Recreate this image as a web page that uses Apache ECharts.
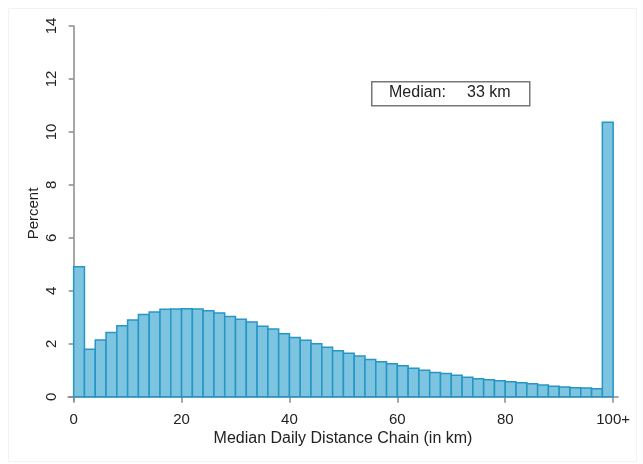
<!DOCTYPE html>
<html><head><meta charset="utf-8">
<script src="https://cdn.jsdelivr.net/npm/echarts@6/dist/echarts.min.js"></script>
<style>html,body{margin:0;padding:0;background:#fff}#c{width:643px;height:464px}</style>
</head><body><div id="c"></div>
<script>
const binStarts = [0,2,4,6,8,10,12,14,16,18,20,22,24,26,28,30,32,34,36,38,40,42,44,46,48,50,52,54,56,58,60,62,64,66,68,70,72,74,76,78,80,82,84,86,88,90,92,94,96,98];
const binWidth = 2;
const percentValues = [4.91,1.79,2.14,2.43,2.68,2.90,3.11,3.20,3.30,3.31,3.32,3.31,3.25,3.16,3.03,2.93,2.82,2.66,2.56,2.38,2.24,2.13,2.00,1.87,1.74,1.64,1.54,1.41,1.32,1.25,1.17,1.08,1.00,0.92,0.88,0.81,0.74,0.68,0.64,0.60,0.57,0.53,0.49,0.44,0.40,0.37,0.34,0.33,0.30,10.37];
const xTickValues = [0,20,40,60,80,100];
const xTickLabels = ['0','20','40','60','80','100+'];
const yTickValues = [0,2,4,6,8,10,12,14];
const xTitle = 'Median Daily Distance Chain (in km)';
const yTitle = 'Percent';
const medianLabel = 'Median:';
const medianText = '33 km';

const chart = echarts.init(document.getElementById('c'), null, {renderer: 'canvas'});
const font = '"Liberation Sans", Arial, sans-serif';
const textColor = '#222';
const axisColor = '#8a8a8a';

const option = {
  animation: false,
  backgroundColor: '#fff',
  grid: {left: 68, right: 25, top: 26, bottom: 63},
  xAxis: {
    type: 'value', min: -1.05, max: 100.9,
    splitLine: {show: false},
    axisLine: {show: true, lineStyle: {color: axisColor, width: 1.5}},
    axisTick: {show: true, customValues: xTickValues, length: 6, lineStyle: {color: axisColor, width: 1.5}},
    axisLabel: {
      customValues: xTickValues,
      formatter: v => xTickLabels[xTickValues.indexOf(v)],
      fontSize: 15, color: textColor, fontFamily: font, margin: 11
    },
    name: xTitle, nameLocation: 'middle', nameGap: 30, nameMoveOverlap: false,
    nameTextStyle: {fontSize: 16, color: textColor, fontFamily: font}
  },
  yAxis: {
    type: 'value', min: -0.16, max: 14,
    splitLine: {show: false},
    axisLine: {show: true, lineStyle: {color: axisColor, width: 1.5}},
    axisTick: {show: true, customValues: yTickValues, length: 5, lineStyle: {color: axisColor, width: 1.5}},
    axisLabel: {
      customValues: yTickValues, rotate: 90,
      fontSize: 15, color: textColor, fontFamily: font, margin: 9
    },
    name: yTitle, nameLocation: 'middle', nameGap: 27, nameRotate: 90, nameMoveOverlap: false,
    nameTextStyle: {fontSize: 15, color: textColor, fontFamily: font}
  },
  graphic: [
    {type: 'rect', left: 6, top: 6, shape: {width: 628, height: 453}, style: {fill: 'none', stroke: '#f2f2f2', lineWidth: 1}, silent: true},
    {type: 'rect', left: 371, top: 81, shape: {width: 158, height: 24}, style: {fill: '#fff', stroke: '#777', lineWidth: 1.5}, z: 10},
    {type: 'text', left: 389, top: 85, style: {text: medianLabel, fontSize: 16, fill: textColor, fontFamily: font}, z: 11},
    {type: 'text', left: 467, top: 85, style: {text: medianText, fontSize: 16, fill: textColor, fontFamily: font}, z: 11}
  ],
  series: [{
    type: 'custom',
    data: binStarts.map((s, i) => [s, s + binWidth, percentValues[i]]),
    encode: {x: [0, 1], y: 2},
    renderItem: (params, api) => {
      const p0 = api.coord([api.value(0), 0]);
      const p1 = api.coord([api.value(1), api.value(2)]);
      return {
        type: 'rect',
        shape: {x: p0[0], y: p1[1], width: p1[0] - p0[0], height: p0[1] - p1[1]},
        style: {fill: '#7cc4df', stroke: '#2596c6', lineWidth: 1.5}
      };
    }
  }]
};
chart.setOption(option);
</script>
</body></html>
